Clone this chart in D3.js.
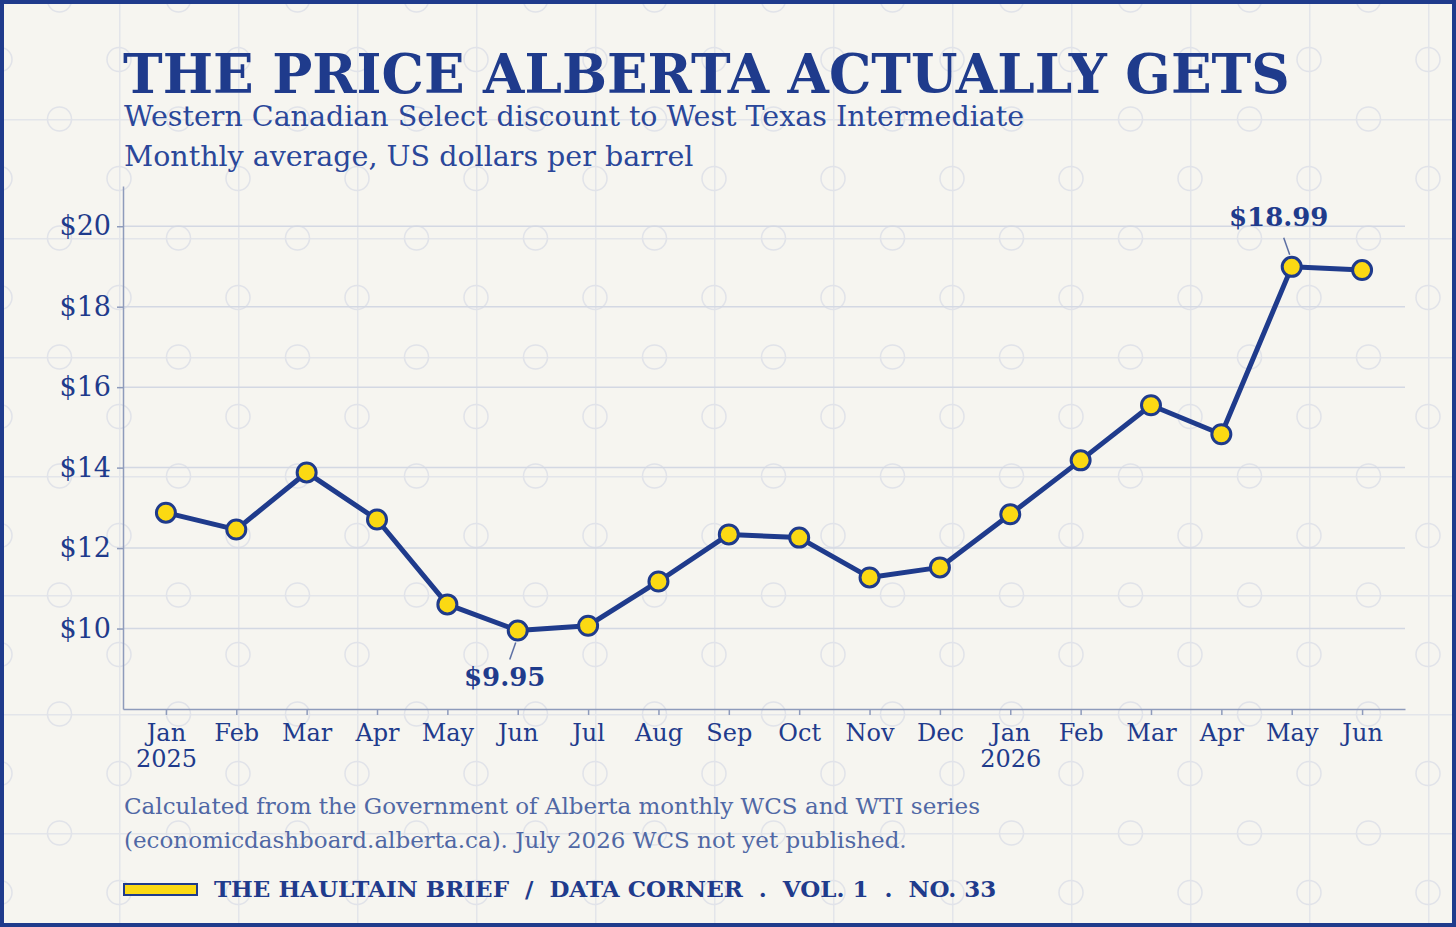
<!DOCTYPE html>
<html lang="en">
<head>
    <meta charset="UTF-8">
    <title>The price Alberta actually gets</title>
    <script src="https://d3js.org/d3.v7.min.js"></script>
    <style>
        html, body { margin: 0; padding: 0; background: #f6f5f0; }
        svg { display: block; }
        text { font-family: "DejaVu Serif", serif; }
    </style>
</head>
<body>
    <div id="chart"></div>

    <script>

        // Monthly WCS discount to WTI, US$/bbl
        var months = ["Jan", "Feb", "Mar", "Apr", "May", "Jun", "Jul", "Aug", "Sep",
                      "Oct", "Nov", "Dec", "Jan", "Feb", "Mar", "Apr", "May", "Jun"];
        var years = ["2025", "", "", "", "", "", "", "", "", "", "", "", "2026", "", "", "", "", ""];
        var discount = [12.88, 12.46, 13.88, 12.71, 10.60, 9.95, 10.07, 11.17, 12.34,
                        12.26, 11.27, 11.52, 12.84, 14.18, 15.55, 14.83, 18.99, 18.91];
        var y_ticks = [10, 12, 14, 16, 18, 20];
        var callouts = [
            {index: 5, label: "$9.95", side: "below"},
            {index: 16, label: "$18.99", side: "above"}
        ];

        function draw_chart() {

            var W = 1456, H = 927;
            var navy = "#1f3b8c";

            var svg = d3.select("#chart")
                .append("svg")
                .attr("width", W)
                .attr("height", H);

            // background + grid paper pattern
            var defs = svg.append("defs");
            var pat = defs.append("pattern")
                .attr("id", "paper")
                .attr("patternUnits", "userSpaceOnUse")
                .attr("width", 119)
                .attr("height", 119);
            pat.append("rect").attr("width", 119).attr("height", 119).attr("fill", "#f6f5f0");
            pat.append("line").attr("x1", 0).attr("y1", 0).attr("x2", 119).attr("y2", 0)
                .attr("stroke", "#e3e5ea").attr("stroke-width", 3);
            pat.append("line").attr("x1", 0).attr("y1", 0).attr("x2", 0).attr("y2", 119)
                .attr("stroke", "#e3e5ea").attr("stroke-width", 3);
            [[59.5, 0], [59.5, 119], [0, 59.5], [119, 59.5]].forEach(function(c) {
                pat.append("circle").attr("cx", c[0]).attr("cy", c[1]).attr("r", 12)
                    .attr("fill", "none").attr("stroke", "#e1e3e9").attr("stroke-width", 1.5);
            });

            svg.append("rect")
                .attr("width", W).attr("height", H)
                .attr("fill", "url(#paper)");

            // frame
            svg.append("rect")
                .attr("x", 2).attr("y", 2)
                .attr("width", W - 4).attr("height", H - 4)
                .attr("fill", "none")
                .attr("stroke", navy)
                .attr("stroke-width", 4);

            // titles
            svg.append("text")
                .attr("x", 123).attr("y", 93)
                .attr("fill", navy)
                .attr("font-size", 53.3)
                .attr("font-weight", "bold")
                .text("THE PRICE ALBERTA ACTUALLY GETS");

            svg.append("text")
                .attr("x", 124).attr("y", 126)
                .attr("fill", "#2a479a")
                .attr("font-size", 28.5)
                .text("Western Canadian Select discount to West Texas Intermediate");

            svg.append("text")
                .attr("x", 124).attr("y", 166)
                .attr("fill", "#2a479a")
                .attr("font-size", 28.5)
                .text("Monthly average, US dollars per barrel");

            // plot area
            var p_left = 123, p_right = 1405, p_top = 186, p_bottom = 709;

            var x = d3.scalePoint()
                .domain(d3.range(months.length))
                .range([p_left, p_right])
                .padding(0.61);

            var y = d3.scaleLinear()
                .domain([8, 21])
                .range([p_bottom, p_top]);

            // horizontal gridlines
            svg.append("g")
                .selectAll("line")
                .data(y_ticks)
                .enter()
                .append("line")
                .attr("x1", p_left).attr("x2", p_right)
                .attr("y1", function(d) { return y(d); })
                .attr("y2", function(d) { return y(d); })
                .attr("stroke", "#d3d8e3")
                .attr("stroke-width", 1.5);

            // Y axis
            var yAxis = svg.append("g")
                .attr("transform", "translate(" + p_left + ",0)")
                .call(d3.axisLeft(y).tickValues(y_ticks).tickSizeInner(6).tickSizeOuter(0).tickPadding(6)
                    .tickFormat(function(d) { return "$" + d; }));
            yAxis.selectAll("text")
                .attr("font-family", "DejaVu Serif")
                .attr("font-size", 27)
                .attr("fill", navy);

            // X axis
            var xAxis = svg.append("g")
                .attr("transform", "translate(0," + p_bottom + ")")
                .call(d3.axisBottom(x).tickSizeInner(6).tickSizeOuter(0).tickPadding(9)
                    .tickFormat(function(i) { return months[i]; }));
            xAxis.selectAll("text")
                .attr("font-family", "DejaVu Serif")
                .attr("font-size", 24)
                .attr("fill", navy)
                .each(function(i) {
                    if (years[i]) {
                        d3.select(this).append("tspan")
                            .attr("x", 0).attr("dy", "1.1em")
                            .text(years[i]);
                    }
                });

            [yAxis, xAxis].forEach(function(ax) {
                ax.select(".domain").attr("stroke", "#8e9bbb").attr("stroke-width", 1.5);
                ax.selectAll(".tick line").attr("stroke", "#8e9bbb").attr("stroke-width", 1.5);
            });

            // line
            var line = d3.line()
                .x(function(d, i) { return x(i); })
                .y(function(d) { return y(d); });

            svg.append("path")
                .datum(discount)
                .attr("d", line)
                .attr("fill", "none")
                .attr("stroke", navy)
                .attr("stroke-width", 5)
                .attr("stroke-linejoin", "round");

            svg.append("g")
                .selectAll("circle")
                .data(discount)
                .enter()
                .append("circle")
                .attr("cx", function(d, i) { return x(i); })
                .attr("cy", function(d) { return y(d); })
                .attr("r", 9.5)
                .attr("fill", "#fbd913")
                .attr("stroke", navy)
                .attr("stroke-width", 3);

            // callouts
            callouts.forEach(function(c) {
                var px = x(c.index), py = y(discount[c.index]);
                var dir = c.side === "below" ? 1 : -1;
                svg.append("line")
                    .attr("x1", px - 2).attr("y1", py + dir * 12)
                    .attr("x2", px - 8).attr("y2", py + dir * 29)
                    .attr("stroke", "#5c6fa3")
                    .attr("stroke-width", 1.5);
                svg.append("text")
                    .attr("x", px - 13)
                    .attr("y", c.side === "below" ? py + 55 : py - 41)
                    .attr("text-anchor", "middle")
                    .attr("font-size", 26)
                    .attr("font-weight", "bold")
                    .attr("fill", navy)
                    .text(c.label);
            });

            // source note
            svg.append("text")
                .attr("x", 124).attr("y", 814)
                .attr("fill", "#5068a5")
                .attr("font-size", 23)
                .text("Calculated from the Government of Alberta monthly WCS and WTI series");
            svg.append("text")
                .attr("x", 124).attr("y", 848)
                .attr("fill", "#5068a5")
                .attr("font-size", 23)
                .text("(economicdashboard.alberta.ca). July 2026 WCS not yet published.");

            // footer
            svg.append("rect")
                .attr("x", 124).attr("y", 884)
                .attr("width", 73).attr("height", 11)
                .attr("fill", "#fbd913")
                .attr("stroke", navy)
                .attr("stroke-width", 2);
            svg.append("text")
                .attr("x", 214).attr("y", 897)
                .attr("fill", navy)
                .attr("font-size", 23)
                .attr("font-weight", "bold")
                .attr("font-family", "Liberation Serif")
                .attr("xml:space", "preserve")
                .style("white-space", "pre")
                .text("THE HAULTAIN BRIEF  /  DATA CORNER  .  VOL. 1  .  NO. 33");
        }

        draw_chart();

    </script>
</body>
</html>
